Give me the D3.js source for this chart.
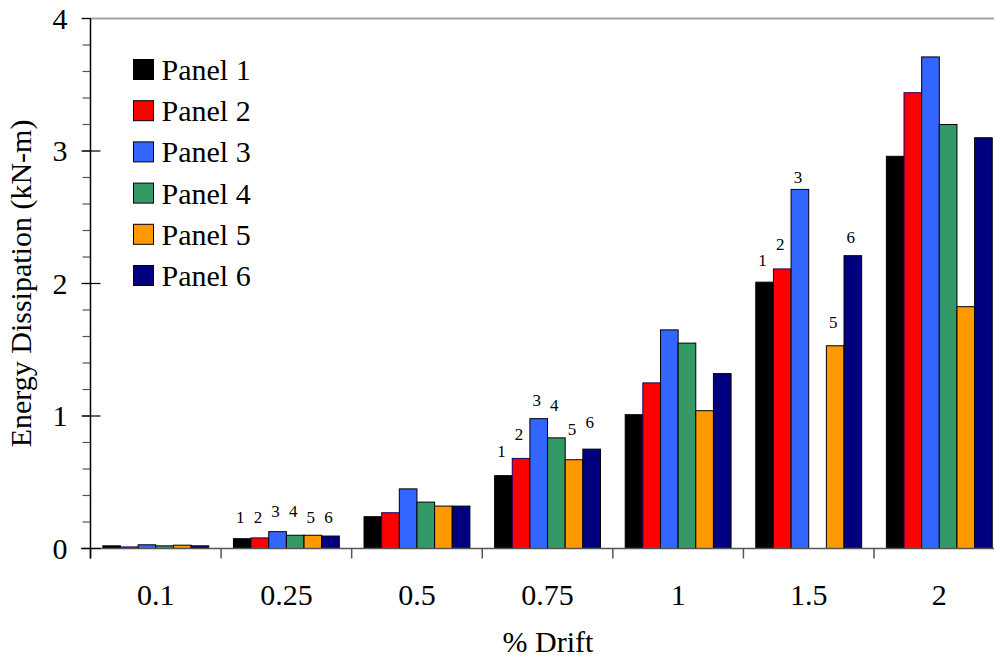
<!DOCTYPE html>
<html>
<head>
<meta charset="utf-8">
<script src="https://cdn.jsdelivr.net/npm/d3@7"></script>
<style>
  html, body { margin: 0; padding: 0; background: #fff; }
  svg { display: block; font-family: "Liberation Serif", "Times New Roman", serif; }
</style>
</head>
<body>
<svg id="chart" width="994" height="660"></svg>
<script>
// ---- data ----
const categories = ["0.1", "0.25", "0.5", "0.75", "1", "1.5", "2"];
const seriesNames = ["Panel 1", "Panel 2", "Panel 3", "Panel 4", "Panel 5", "Panel 6"];
const panel1 = [0.02, 0.074, 0.24, 0.55, 1.01, 2.01, 2.96];
const panel2 = [0.012, 0.08, 0.27, 0.68, 1.25, 2.11, 3.44];
const panel3 = [0.028, 0.127, 0.45, 0.98, 1.65, 2.71, 3.71];
const panel4 = [0.02, 0.10, 0.35, 0.835, 1.55, null, 3.20];
const panel5 = [0.025, 0.10, 0.32, 0.67, 1.04, 1.53, 1.825];
const panel6 = [0.02, 0.094, 0.32, 0.75, 1.32, 2.21, 3.10];
const seriesValues = [panel1, panel2, panel3, panel4, panel5, panel6];
const seriesColors = ["#000000", "#ff0000", "#3366ff", "#339966", "#ff9900", "#000080"];
const yTicks = [0, 1, 2, 3, 4];
// bar-number annotations: category, series index, label level (kN-m)
const annoCats = ["0.25", "0.25", "0.25", "0.25", "0.25", "0.25",
                  "0.75", "0.75", "0.75", "0.75", "0.75", "0.75",
                  "1.5", "1.5", "1.5", "1.5", "1.5"];
const annoSeries = [0, 1, 2, 3, 4, 5, 0, 1, 2, 3, 4, 5, 0, 1, 2, 4, 5];
const annoLevels = [0.24, 0.24, 0.285, 0.285, 0.24, 0.24,
                    0.736, 0.864, 1.12, 1.083, 0.902, 0.955,
                    2.177, 2.298, 2.804, 1.709, 2.351];

// ---- layout ----
const svg = d3.select("#chart");
const plotLeft = 90.5, plotRight = 1004.6, plotTop = 18.5, plotBottom = 548.5;

const x0 = d3.scaleBand().domain(categories).range([plotLeft, plotRight]).padding(0);
const x1 = d3.scaleBand().domain(d3.range(seriesNames.length))
  .range([0, x0.bandwidth()]).paddingInner(0).paddingOuter(0.7);
const y = d3.scaleLinear().domain([0, 4]).range([plotBottom, plotTop]);

// top frame line
svg.append("line").attr("x1", plotLeft).attr("x2", 994).attr("y1", y(4)).attr("y2", y(4))
  .attr("stroke", "#a0a0a0").attr("stroke-width", 2);

// bars
const groups = svg.append("g").selectAll("g").data(categories).join("g")
  .attr("transform", c => `translate(${x0(c)},0)`);
groups.selectAll("rect")
  .data((c, ci) => seriesValues.map((vals, si) => ({si, v: vals[ci]})).filter(d => d.v != null))
  .join("rect")
  .attr("x", d => x1(d.si))
  .attr("width", x1.bandwidth())
  .attr("y", d => y(d.v))
  .attr("height", d => y(0) - y(d.v))
  .attr("fill", d => seriesColors[d.si])
  .attr("stroke", d => d.si === 1 ? "#1a0060" : "#000")
  .attr("stroke-width", 1);

// bar-number annotations
svg.append("g").selectAll("text").data(annoCats.map((c, i) => ({c, s: annoSeries[i], lv: annoLevels[i]})))
  .join("text")
  .attr("x", d => x0(d.c) + x1(d.s) + x1.bandwidth() / 2 - 2)
  .attr("y", d => y(d.lv))
  .attr("dy", "0.35em")
  .attr("text-anchor", "middle")
  .attr("font-size", 17)
  .attr("fill", "#000")
  .text(d => d.s + 1);

// x axis line
svg.append("line").attr("x1", 81).attr("x2", 994).attr("y1", y(0)).attr("y2", y(0))
  .attr("stroke", "#555").attr("stroke-width", 1.5);
// category boundary ticks
const boundaries = categories.map(c => x0(c));
svg.append("g").selectAll("line").data(boundaries).join("line")
  .attr("x1", d => d).attr("x2", d => d)
  .attr("y1", y(0)).attr("y2", y(0) + 10)
  .attr("stroke", "#555").attr("stroke-width", 1.5);
// x tick labels
svg.append("g").selectAll("text").data(categories).join("text")
  .attr("x", c => x0(c) + x0.bandwidth() / 2)
  .attr("y", 605)
  .attr("text-anchor", "middle")
  .attr("font-size", 30)
  .text(c => c);

// y axis
const yAxis = d3.axisLeft(y).tickValues(yTicks).tickFormat(d3.format("d")).tickSize(0);
const gy = svg.append("g").attr("transform", `translate(${plotLeft},0)`).call(yAxis);
gy.select(".domain").remove();
gy.selectAll("text").attr("x", -23).attr("font-size", 30)
  .attr("font-family", "Liberation Serif, Times New Roman, serif").attr("fill", "#000");
// minor ticks
const minor = d3.range(0, 4.001, 0.2);
svg.append("g").selectAll("line").data(minor).join("line")
  .attr("x1", plotLeft - 8).attr("x2", plotLeft)
  .attr("y1", d => y(d)).attr("y2", d => y(d))
  .attr("stroke", "#555").attr("stroke-width", 1.2);
// major ticks
svg.append("g").selectAll("line").data(yTicks).join("line")
  .attr("x1", plotLeft - 9).attr("x2", d => d === 4 ? plotLeft : plotLeft + 10)
  .attr("y1", d => y(d)).attr("y2", d => y(d))
  .attr("stroke", "#000").attr("stroke-width", 1.2);
svg.append("line").attr("x1", plotLeft).attr("x2", plotLeft).attr("y1", y(4)).attr("y2", y(0) + 10)
  .attr("stroke", "#000").attr("stroke-width", 1.5);

// axis titles
svg.append("text").attr("x", 548).attr("y", 652).attr("text-anchor", "middle")
  .attr("font-size", 30).text("% Drift");
svg.append("text").attr("transform", `translate(31,${(plotTop + plotBottom) / 2}) rotate(-90)`)
  .attr("text-anchor", "middle").attr("font-size", 30).text("Energy Dissipation (kN-m)");

// legend
const legend = svg.append("g").selectAll("g").data(seriesNames).join("g")
  .attr("transform", (d, i) => `translate(133.5,${69.5 + i * 41.2})`);
legend.append("rect").attr("x", 0).attr("y", -10).attr("width", 20).attr("height", 20)
  .attr("fill", (d, i) => seriesColors[i]).attr("stroke", "#000").attr("stroke-width", 1);
legend.append("text").attr("x", 28).attr("y", 0).attr("dy", "0.35em")
  .attr("font-size", 30).text(d => d);
</script>
</body>
</html>
